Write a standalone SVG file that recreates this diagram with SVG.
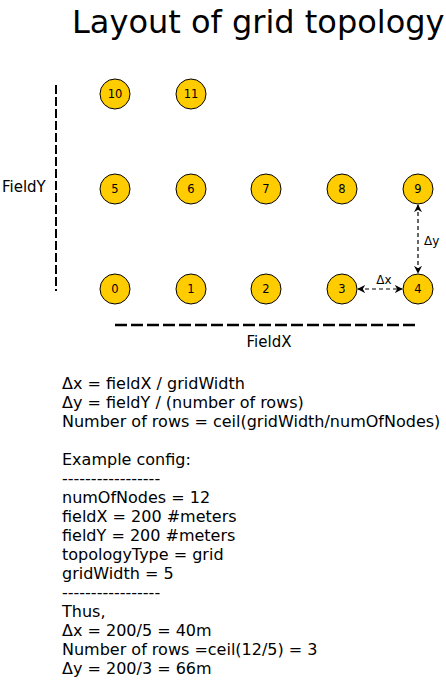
<svg xmlns="http://www.w3.org/2000/svg" width="446" height="682" viewBox="0 0 446 682">
<style>
text{font-family:"DejaVu Sans",sans-serif;fill:#000}
.node circle{fill:#ffcc00;stroke:#000;stroke-width:1}
.node text{font-size:11.5px;text-anchor:middle}
.body{font-size:16px}
.conn{stroke:#000;stroke-width:1.2;stroke-dasharray:4 3;fill:none}
</style>
<defs>
<marker id="ah" viewBox="0 0 10 10" refX="9" refY="5" markerWidth="8" markerHeight="8" orient="auto-start-reverse" markerUnits="userSpaceOnUse">
<path d="M0,0 L10,5 L0,10 L3,5 Z" fill="#000"/>
</marker>
</defs>
<rect width="446" height="682" fill="#fff"/>
<text x="72" y="33" font-size="32">Layout of grid topology</text>
<g id="fieldY"><line x1="56" y1="85" x2="56" y2="291" stroke="#000" stroke-width="2" stroke-dasharray="9 3"/><text x="2" y="192" font-size="15">FieldY</text></g>
<g id="fieldX"><line x1="115" y1="325" x2="418" y2="325" stroke="#000" stroke-width="2.5" stroke-dasharray="12 4"/><text x="269" y="347" font-size="15" text-anchor="middle">FieldX</text></g>
<g id="n10" class="node"><circle cx="115" cy="94" r="15"/><text x="115" y="98">10</text></g>
<g id="n11" class="node"><circle cx="191" cy="94" r="15"/><text x="191" y="98">11</text></g>
<g id="n5" class="node"><circle cx="115" cy="189" r="15"/><text x="115" y="193">5</text></g>
<g id="n6" class="node"><circle cx="191" cy="189" r="15"/><text x="191" y="193">6</text></g>
<g id="n7" class="node"><circle cx="266" cy="189" r="15"/><text x="266" y="193">7</text></g>
<g id="n8" class="node"><circle cx="342" cy="189" r="15"/><text x="342" y="193">8</text></g>
<g id="n9" class="node"><circle cx="418" cy="189" r="15"/><text x="418" y="193">9</text></g>
<g id="n0" class="node"><circle cx="115" cy="289" r="15"/><text x="115" y="293">0</text></g>
<g id="n1" class="node"><circle cx="191" cy="289" r="15"/><text x="191" y="293">1</text></g>
<g id="n2" class="node"><circle cx="266" cy="289" r="15"/><text x="266" y="293">2</text></g>
<g id="n3" class="node"><circle cx="342" cy="289" r="15"/><text x="342" y="293">3</text></g>
<g id="n4" class="node"><circle cx="418" cy="289" r="15"/><text x="418" y="293">4</text></g>
<g id="connectors">
<line class="conn" x1="418" y1="205" x2="418" y2="273" marker-start="url(#ah)" marker-end="url(#ah)"/>
<text x="424" y="245" font-size="12">Δy</text>
<line class="conn" x1="358" y1="289" x2="402" y2="289" marker-start="url(#ah)" marker-end="url(#ah)"/>
<text x="384" y="284" font-size="12" text-anchor="middle">Δx</text>
</g>
<g id="notes" class="body">
<text x="62" y="389">Δx = fieldX / gridWidth</text>
<text x="62" y="408">Δy = fieldY / (number of rows)</text>
<text x="62" y="427">Number of rows = ceil(gridWidth/numOfNodes)</text>
<text x="62" y="465">Example config:</text>
<text x="62" y="484">-----------------</text>
<text x="62" y="503">numOfNodes = 12</text>
<text x="62" y="522">fieldX = 200 #meters</text>
<text x="62" y="541">fieldY = 200 #meters</text>
<text x="62" y="560">topologyType = grid</text>
<text x="62" y="579">gridWidth = 5</text>
<text x="62" y="598">-----------------</text>
<text x="62" y="617">Thus,</text>
<text x="62" y="636">Δx = 200/5 = 40m</text>
<text x="62" y="655">Number of rows =ceil(12/5) = 3</text>
<text x="62" y="674">Δy = 200/3 = 66m</text>
</g>
</svg>
